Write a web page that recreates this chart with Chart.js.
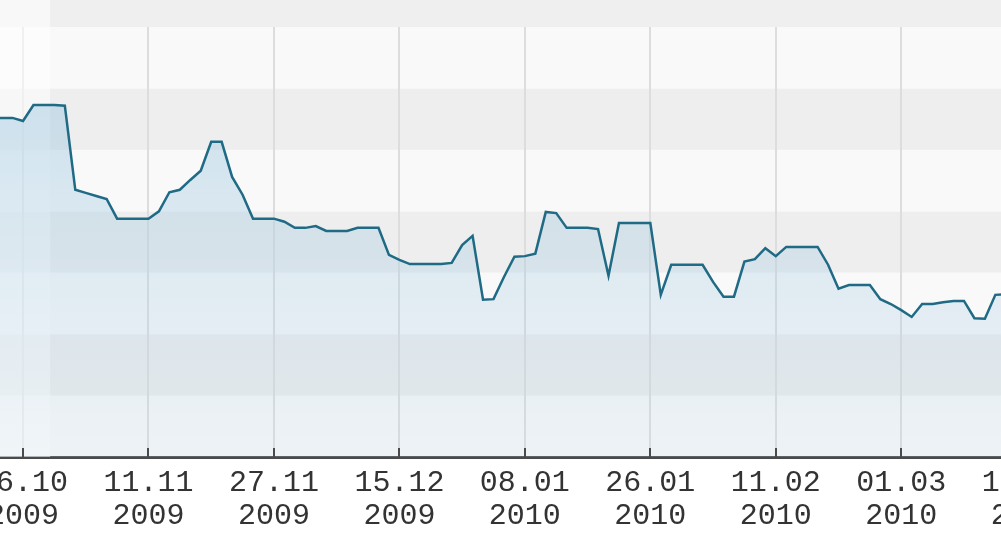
<!DOCTYPE html>
<html>
<head>
<meta charset="utf-8">
<script src="https://cdn.jsdelivr.net/npm/chart.js@4/dist/chart.umd.min.js"></script>
<style>
  html, body { margin:0; padding:0; width:1001px; height:538px; overflow:hidden; background:#ffffff; }
  #wrap { position:absolute; left:-60px; top:0; width:1160px; height:548px; }
</style>
</head>
<body>
<div id="wrap"><canvas id="c"></canvas></div>
<script>
// trading-day index of the first value (26.10.2009 = day 0)
const firstDay = -3;
// closing values, one per trading day
const prices = [
  5.52, 5.52, 5.52, 5.47, 5.73, 5.73, 5.73, 5.72, 4.35, 4.30,
  4.25, 4.20, 3.88, 3.88, 3.88, 3.88, 4.00, 4.31, 4.35, 4.51,
  4.66, 5.13, 5.13, 4.56, 4.27, 3.88, 3.88, 3.88, 3.83, 3.73,
  3.73, 3.76, 3.68, 3.68, 3.68, 3.73, 3.73, 3.73, 3.29, 3.21,
  3.14, 3.14, 3.14, 3.14, 3.16, 3.45, 3.60, 2.56, 2.57, 2.93,
  3.26, 3.27, 3.31, 3.99, 3.97, 3.73, 3.73, 3.73, 3.71, 2.95,
  3.81, 3.81, 3.81, 3.81, 2.64, 3.13, 3.13, 3.13, 3.13, 2.85,
  2.61, 2.61, 3.18, 3.22, 3.40, 3.27, 3.42, 3.42, 3.42, 3.42,
  3.13, 2.74, 2.80, 2.80, 2.80, 2.57, 2.49, 2.39, 2.28, 2.49,
  2.49, 2.52, 2.54, 2.54, 2.26, 2.25, 2.64, 2.65, 2.72
];
// x-axis ticks (trading-day index) and their labels
const tickDays = [0, 12, 24, 36, 48, 60, 72, 84, 96];
const tickLabels = [
  ['26.10', '2009'], ['11.11', '2009'], ['27.11', '2009'], ['15.12', '2009'],
  ['08.01', '2010'], ['26.01', '2010'], ['11.02', '2010'], ['01.03', '2010'],
  ['17.03', '2010']
];
// horizontal band levels
const bandLevels = [0, 1, 2, 3, 4, 5, 6, 7];
// lighter highlighted range (trading days)
const highlightDays = [-8, 2.6];

const bandPlugin = {
  id: 'bands',
  beforeDraw(chart) {
    const {ctx, chartArea, scales: {x, y}} = chart;
    ctx.save();
    ctx.fillStyle = '#efefef';
    ctx.fillRect(0, 0, chart.width, chartArea.top);
    for (let i = 0; i < bandLevels.length - 1; i++) {
      const yTop = y.getPixelForValue(bandLevels[i + 1]);
      const yBot = y.getPixelForValue(bandLevels[i]);
      ctx.fillStyle = (bandLevels[i] % 2 === 1) ? '#eeeeee' : '#f9f9f9';
      ctx.fillRect(chartArea.left, yTop, chartArea.right - chartArea.left, yBot - yTop);
    }
    ctx.restore();
  },
  beforeDatasetsDraw(chart) {
    const {ctx, chartArea, scales: {x}} = chart;
    const x0 = x.getPixelForValue(highlightDays[0]);
    const x1 = x.getPixelForValue(highlightDays[1]);
    ctx.save();
    ctx.fillStyle = 'rgba(255,255,255,0.55)';
    ctx.fillRect(x0, 0, x1 - x0, chartArea.bottom);
    ctx.restore();
  },
  afterDraw(chart) {
    const {ctx, chartArea, scales: {x}} = chart;
    ctx.save();
    ctx.strokeStyle = '#4a4a4a';
    ctx.lineWidth = 2;
    tickDays.forEach(d => {
      const px = Math.round(x.getPixelForValue(d));
      ctx.beginPath();
      ctx.moveTo(px, chartArea.bottom - 9);
      ctx.lineTo(px, chartArea.bottom);
      ctx.stroke();
    });
    ctx.restore();
  }
};

const ctx = document.getElementById('c').getContext('2d');
new Chart(ctx, {
  type: 'line',
  data: {
    datasets: [{
      data: prices.map((p, i) => ({x: firstDay + i, y: p})),
      borderColor: '#1f6a84',
      borderWidth: 2.5,
      pointRadius: 0,
      tension: 0,
      fill: 'start',
      backgroundColor(context) {
        const {chart} = context;
        const area = chart.chartArea;
        if (!area) return 'rgba(170,205,225,0.35)';
        const g = chart.ctx.createLinearGradient(0, area.top + 60, 0, area.bottom);
        g.addColorStop(0, 'rgba(150,195,222,0.45)');
        g.addColorStop(1, 'rgba(185,212,230,0.18)');
        return g;
      }
    }]
  },
  options: {
    responsive: true,
    maintainAspectRatio: false,
    animation: false,
    layout: { padding: { top: 27, bottom: 5, left: 0, right: 0 } },
    plugins: { legend: { display: false }, tooltip: { enabled: false } },
    scales: {
      x: {
        type: 'linear',
        min: -7.94,
        max: 103.01,
        afterBuildTicks(scale) { scale.ticks = tickDays.map(v => ({value: v})); },
        grid: { color: '#dddddd', lineWidth: 2, drawTicks: false },
        border: { display: true, color: '#4a4a4a', width: 3 },
        ticks: {
          autoSkip: false,
          maxRotation: 0,
          padding: 10,
          color: '#333333',
          font: { family: 'Liberation Mono', size: 30, lineHeight: 1.1 },
          callback(value) {
            const i = tickDays.indexOf(value);
            return i >= 0 ? tickLabels[i] : '';
          }
        }
      },
      y: {
        display: false,
        min: 0,
        max: 7
      }
    }
  },
  plugins: [bandPlugin]
});
</script>
</body>
</html>
